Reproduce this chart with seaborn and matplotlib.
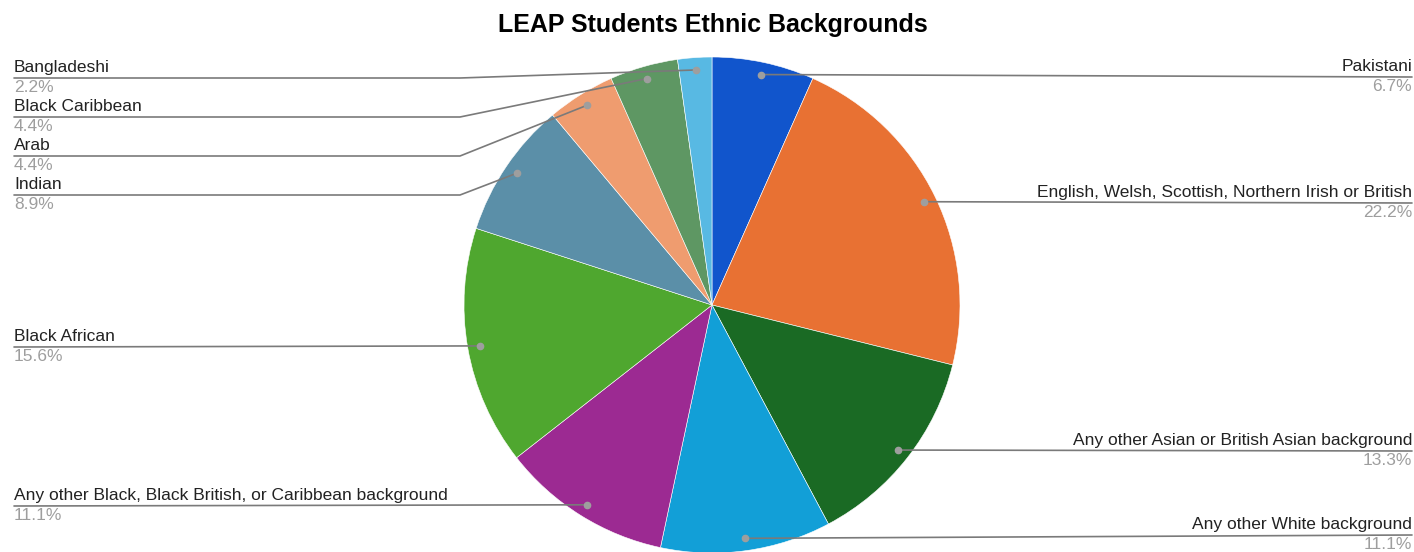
import numpy as np
import matplotlib
matplotlib.use("Agg")
import matplotlib.pyplot as plt
import seaborn as sns

# data: students per ethnic background (45 total), clockwise from 12 o'clock
categories = [
    "Pakistani",
    "English, Welsh, Scottish, Northern Irish or British",
    "Any other Asian or British Asian background",
    "Any other White background",
    "Any other Black, Black British, or Caribbean background",
    "Black African",
    "Indian",
    "Arab",
    "Black Caribbean",
    "Bangladeshi",
]
counts = [3, 10, 6, 5, 5, 7, 4, 2, 2, 1]
colors = ["#1155cc", "#e87133", "#1a6a24", "#129fd7", "#9c2a92",
          "#4fa72f", "#5b8fa8", "#ef9c6f", "#5e9763", "#58b9e3"]

# label placement (pixel rows of the leader line, side of the chart)
label_side = ["right", "right", "right", "right", "left",
              "left", "left", "left", "left", "left"]
label_row = [77, 203, 451, 535, 506, 347, 195, 156, 117, 78]
elbow = [False, False, False, False, False, False, True, True, True, True]

W, H = 1414, 552
CX, CY, R = 712, H - 305, 248

sns.set_theme(style="white")
plt.rcParams["font.family"] = ["Liberation Sans", "DejaVu Sans"]

fig = plt.figure(figsize=(W / 100, H / 100), dpi=100, facecolor="white")
ax = fig.add_axes([0, 0, 1, 1])

wedges, _ = ax.pie(counts, colors=colors, startangle=90, counterclock=False,
                   center=(CX, CY), radius=R, frame=True,
                   wedgeprops=dict(edgecolor="white", linewidth=0.4))
ax.set_xlim(0, W)
ax.set_ylim(0, H)
ax.set_aspect("equal")
ax.axis("off")

total = sum(counts)
for w, name, n, side, row, bend in zip(wedges, categories, counts, label_side, label_row, elbow):
    mid = np.deg2rad((w.theta1 + w.theta2) / 2)
    dx, dy = CX + 0.95 * R * np.cos(mid), CY + 0.95 * R * np.sin(mid)
    ly = H - row
    if side == "right":
        xs, ys = [dx, 1412], [dy, ly]
        tx, ha = 1412, "right"
    else:
        if bend:
            xs, ys = [dx, 460, 14], [dy, ly, ly]
        else:
            xs, ys = [dx, 14], [dy, ly]
        tx, ha = 14, "left"
    ax.plot(xs, ys, color="#7a7a7a", lw=1.2, zorder=3)
    ax.plot([dx], [dy], "o", color="#9e9e9e", ms=4.5, zorder=4)
    ax.text(tx, ly + 3, name, ha=ha, va="bottom", fontsize=12.5, color="#222222")
    ax.text(tx, ly - 2, f"{100 * n / total:.1f}%", ha=ha, va="top",
            fontsize=12.5, color="#9e9e9e")

ax.text(W / 2 + 6, H - 25, "LEAP Students Ethnic Backgrounds", ha="center", va="center",
        fontsize=18, fontweight="bold", color="#000000")

fig.savefig("out.png", dpi=100, facecolor="white")
